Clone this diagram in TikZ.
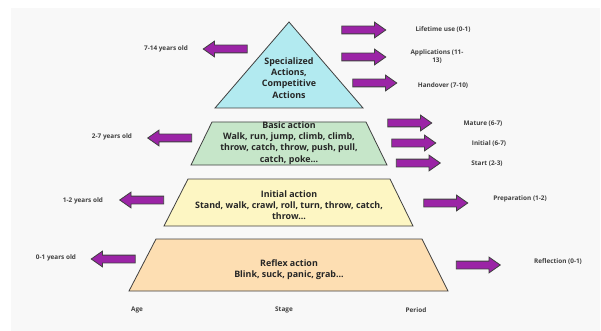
\documentclass[tikz,border=0pt]{standalone}
\usepackage{fontspec}
\setmainfont{Open Sans}
\usetikzlibrary{shapes.arrows, math}
\definecolor{mypurple}{RGB}{155,36,166}
\definecolor{mycyan}{RGB}{178,234,240}
\definecolor{mygreen}{RGB}{198,230,201}
\definecolor{myyellow}{RGB}{253,246,195}
\definecolor{myorange}{RGB}{253,222,178}
\definecolor{mygray}{RGB}{64,64,64}
\definecolor{mybg}{RGB}{248,248,248}
\tikzset{
  arr/.style={single arrow, draw=mygray, fill=mypurple, line width=0.8pt,
    inner sep=3.5pt, single arrow head extend=4pt, single arrow tip angle=70,
    minimum height=44pt},
  larr/.style={arr, shape border rotate=180},
  lbl/.style={text=mygray, font=\bfseries\fontsize{6.4}{8}\selectfont, align=center},
  stage/.style={draw=mygray, line width=0.8pt},
  stagetxt/.style={text=black!85, font=\bfseries\fontsize{8.9}{11.2}\selectfont, align=center},
}

\begin{document}
\begin{tikzpicture}[x=1pt,y=-1pt]
\useasboundingbox (0,0) rectangle (601,331);
\fill[mybg] (11,8) rectangle (600,331);

% stages of the pyramid
\draw[stage, fill=mycyan] (215,108) -- (289,22) -- (363,108) -- cycle;
\node[stagetxt] (spec) at (289,78) {Specialized\\Actions,\\Competitive\\Actions};

\draw[stage, fill=mygreen] (191,165) -- (212,122) -- (366,122) -- (387,165) -- cycle;
\node[stagetxt] (basic) at (289,143) {Basic action\\Walk, run, jump, climb, climb,\\throw, catch, throw, push, pull,\\catch, poke...};

\draw[stage, fill=myyellow] (164,226) -- (188,179) -- (390,179) -- (413,226) -- cycle;
\node[stagetxt] (initial) at (289,205) {Initial action\\Stand, walk, crawl, roll, turn, throw, catch,\\throw...};

\draw[stage, fill=myorange] (129,291) -- (156,239) -- (422,239) -- (448,291) -- cycle;
\node[stagetxt] (reflex) at (289,269.5) {Reflex action\\Blink, suck, panic, grab...};

% age
\node[larr] (a714) at (228,49) {};
\node[lbl] (age714) at (166,49) {7-14 years old};
\node[larr] (a27) at (172.5,138) {};
\node[lbl] (age27) at (112,137) {2-7 years old};
\node[larr] (a12) at (144.5,200) {};
\node[lbl] (age12) at (83,201) {1-2 years old};
\node[larr] (a01) at (116,259) {};
\node[lbl] (age01) at (56,258) {0-1 years old};

% period
\node[arr] (plife) at (361,30) {};
\node[lbl] (life) at (443,30) {Lifetime use (0-1)};
\node[arr] (papp) at (361,57) {};
\node[lbl] (app) at (437,57) {Applications (11-\\13)};
\node[arr] (phand) at (372,83) {};
\node[lbl] (hand) at (443,86) {Handover (7-10)};
\node[arr] (pmature) at (407,123) {};
\node[lbl] (mature) at (483,124) {Mature (6-7)};
\node[arr] (pinit) at (411,143) {};
\node[lbl] (init) at (489,144) {Initial (6-7)};
\node[arr] (pstart) at (415.5,163) {};
\node[lbl] (start) at (487,164) {Start (2-3)};
\node[arr] (pprep) at (443,203) {};
\node[lbl] (prep) at (520,199) {Preparation (1-2)};
\node[arr] (prefl) at (475.5,265) {};
\node[lbl] (refl) at (558,262) {Reflection (0-1)};

\node[lbl] (age) at (137,310) {Age};
\node[lbl] (stg) at (284,310) {Stage};
\node[lbl] (period) at (416,310) {Period};
\end{tikzpicture}
\end{document}
